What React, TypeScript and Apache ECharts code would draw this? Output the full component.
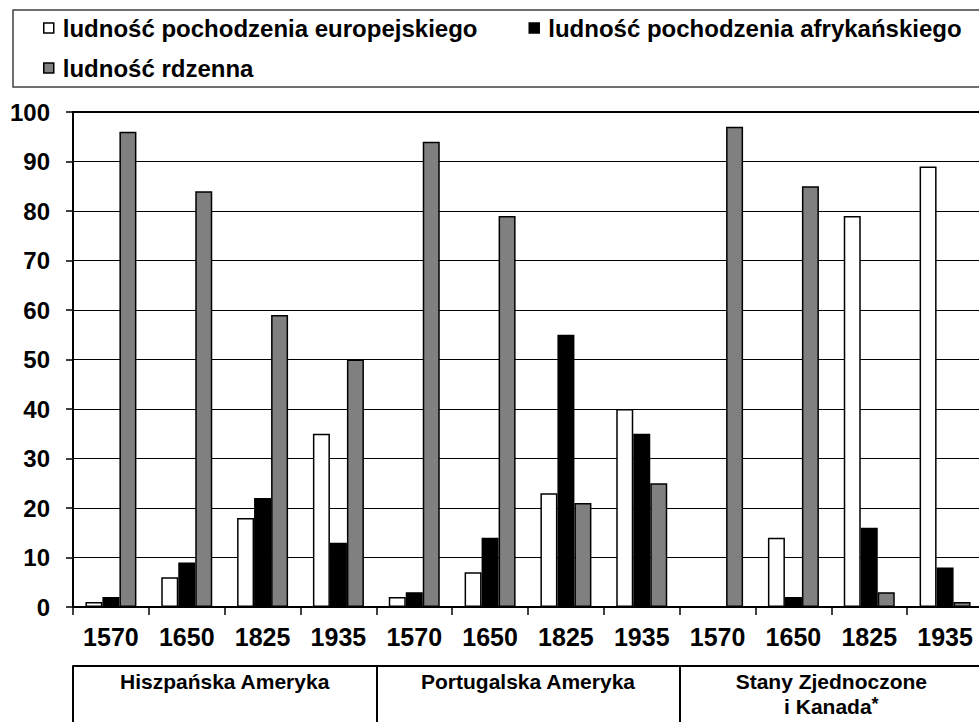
import React, { useEffect, useRef } from "react";
import * as echarts from "echarts";

const years = ["1570", "1650", "1825", "1935", "1570", "1650", "1825", "1935", "1570", "1650", "1825", "1935"];
const groups = ["Hiszpańska Ameryka", "Portugalska Ameryka", "Stany Zjednoczone\ni Kanada{s|*}"];
const seriesNames = [
  "ludność pochodzenia europejskiego",
  "ludność pochodzenia afrykańskiego",
  "ludność rdzenna",
];
const european = [1, 6, 18, 35, 2, 7, 23, 40, 0, 14, 79, 89];
const african = [2, 9, 22, 13, 3, 14, 55, 35, 0, 2, 16, 8];
const indigenous = [96, 84, 59, 50, 94, 79, 21, 25, 97, 85, 3, 1];
const yTicks = { min: 0, max: 100, interval: 10 };

const FONT = "'Liberation Sans', Arial, sans-serif";
const colors = ["#ffffff", "#000000", "#808080"];

export default function App() {
  const ref = useRef<HTMLDivElement>(null);
  useEffect(() => {
    if (!ref.current) return;
    const chart = echarts.init(ref.current, null, { renderer: "svg" });
    const values = [european, african, indigenous];
    const legendCommon = {
      left: 43,
      padding: 0,
      icon: "rect",
      itemWidth: 10,
      itemHeight: 10,
      itemGap: 51,
      orient: "horizontal",
      itemStyle: { borderColor: "#000", borderWidth: 1.5 },
      textStyle: { fontFamily: FONT, fontWeight: "bold", fontSize: 24, color: "#000", padding: [0, 0, 0, 4] },
      selectedMode: false,
    };
    chart.setOption({
      animation: false,
      backgroundColor: "#fff",
      textStyle: { fontFamily: FONT },
      graphic: [
        {
          type: "rect",
          shape: { x: 13, y: 10, width: 1000, height: 77 },
          style: { fill: "none", stroke: "#404040", lineWidth: 1.5 },
          z: 0,
        },
      ],
      legend: [
        { ...legendCommon, top: 16, data: [seriesNames[0], seriesNames[1]] },
        { ...legendCommon, top: 56, data: [seriesNames[2]] },
      ],
      grid: {
        left: 73,
        top: 112,
        right: 7,
        bottom: 115,
        show: true,
        borderColor: "#000",
        borderWidth: 2,
        backgroundColor: "transparent",
        containLabel: false,
      },
      xAxis: [
        {
          type: "category",
          data: years,
          position: "bottom",
          axisLine: { lineStyle: { color: "#000", width: 2 } },
          axisTick: { show: true, length: 8, interval: 0, lineStyle: { color: "#000", width: 1.5 } },
          axisLabel: {
            interval: 0,
            margin: 17,
            color: "#000",
            fontFamily: FONT,
            fontWeight: "bold",
            fontSize: 25,
          },
        },
        {
          type: "category",
          data: groups,
          position: "bottom",
          offset: 59,
          axisLine: { lineStyle: { color: "#000", width: 2 } },
          axisTick: { show: true, length: 60, interval: 0, lineStyle: { color: "#000", width: 2 } },
          axisLabel: {
            interval: 0,
            margin: 3,
            color: "#000",
            fontFamily: FONT,
            fontWeight: "bold",
            fontSize: 21,
            lineHeight: 25,
            rich: {
              s: { fontFamily: FONT, fontWeight: "bold", fontSize: 18, lineHeight: 25, color: "#000", padding: [0, 0, 6, 0] },
            },
          },
        },
      ],
      yAxis: {
        type: "value",
        min: yTicks.min,
        max: yTicks.max,
        interval: yTicks.interval,
        axisLine: { show: true, lineStyle: { color: "#000", width: 2 } },
        axisTick: { show: true, length: 7, lineStyle: { color: "#000", width: 1.5 } },
        splitLine: { show: true, lineStyle: { color: "#000", width: 1 } },
        axisLabel: {
          margin: 23,
          color: "#000",
          fontFamily: FONT,
          fontWeight: "bold",
          fontSize: 24,
        },
      },
      series: seriesNames.map((name, i) => ({
        name,
        type: "bar",
        xAxisIndex: 0,
        data: values[i],
        barWidth: 17,
        barGap: "0%",
        itemStyle: { color: colors[i], borderColor: "#000", borderWidth: 1.5 },
      })),
    });
    return () => chart.dispose();
  }, []);
  return (
    <div style={{ position: "absolute", left: 0, top: 0, width: 979, height: 722, overflow: "hidden", background: "#fff" }}>
      <div ref={ref} style={{ position: "absolute", left: 0, top: 0, width: 990, height: 722 }} />
    </div>
  );
}
